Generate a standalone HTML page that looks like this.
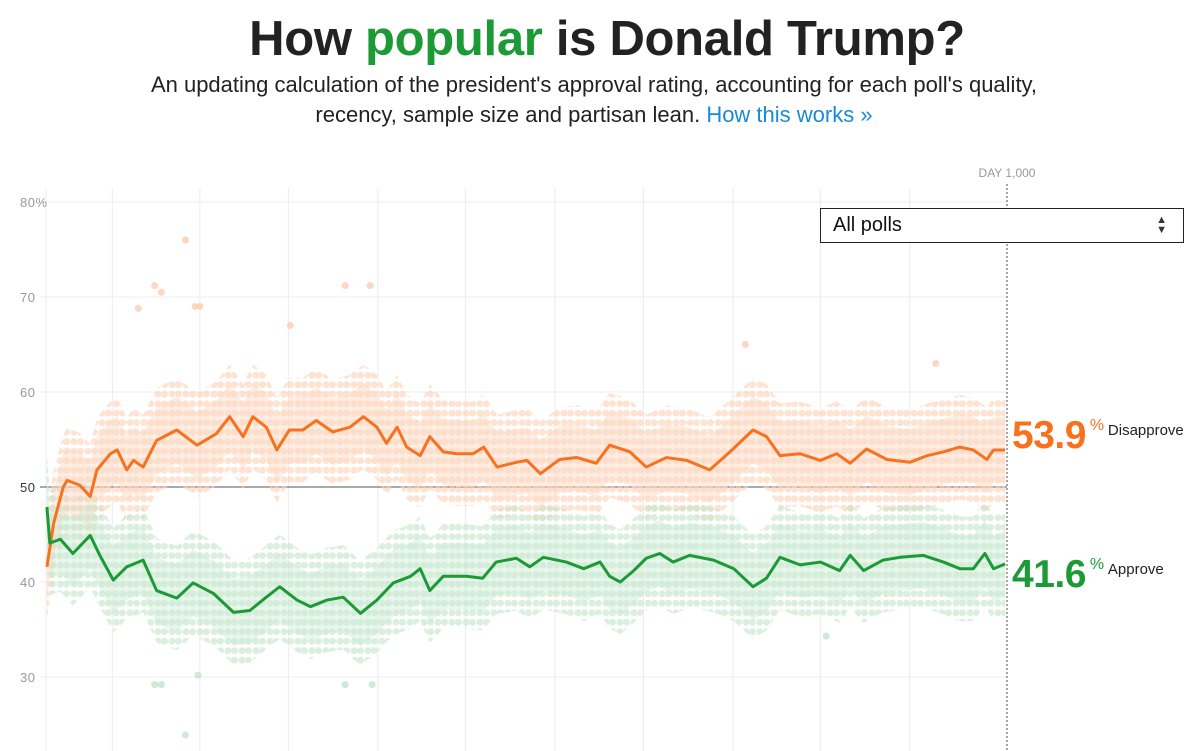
<!DOCTYPE html>
<html><head><meta charset="utf-8">
<style>
body{margin:0;width:1200px;height:751px;overflow:hidden;background:#fff;font-family:"Liberation Sans",sans-serif;position:relative}
#title{position:absolute;left:0;width:1214px;top:11px;text-align:center;font-size:49px;font-weight:bold;color:#222;letter-spacing:-0.3px}
#title span{color:#1b9a35}
#sub{position:absolute;left:0;width:1188px;top:70px;text-align:center;font-size:22px;line-height:30px;color:#222}
#sub a{color:#1a8ad4;text-decoration:none}
svg{position:absolute;left:0;top:0}
#dd{position:absolute;left:820px;top:208px;width:364px;height:35px;border:1.5px solid #222;background:#fff;box-sizing:border-box;font-size:20px;line-height:33px;padding-left:12px;color:#111}
#dd .arr{position:absolute;right:16px;top:6px;font-size:11px;line-height:10px;color:#333}
</style></head><body>
<div id="title">How <span>popular</span> is Donald Trump?</div>
<div id="sub">An updating calculation of the president's approval rating, accounting for each poll's quality,<br>recency, sample size and partisan lean. <a href="#">How this works »</a></div>
<svg id="chart" width="1200" height="751"></svg>
<div id="dd">All polls<div class="arr">▲<br>▼</div></div>
<script>
const disDays=[2,9,19,23,36,47,54,68,75,85,92,102,116,137,158,178,192,206,216,230,241,254,268,282,299,317,331,345,355,366,376,390,400,414,428,445,456,470,490,501,515,535,553,573,587,608,625,646,667,691,712,736,750,764,785,806,823,837,854,875,899,917,934,951,965,979,986,998];
const disVals=[41.6,46.2,50,50.7,50.2,49,51.8,53.5,53.9,51.8,52.8,52.1,54.9,56.0,54.4,55.6,57.4,55.3,57.4,56.3,53.9,56.0,56.0,57.0,55.8,56.3,57.4,56.3,54.6,56.3,54.2,53.3,55.3,53.7,53.5,53.5,54.2,52.1,52.6,52.8,51.4,52.9,53.1,52.5,54.4,53.7,52.1,53.1,52.8,51.8,53.7,56.0,55.3,53.3,53.5,52.8,53.5,52.5,54.0,52.9,52.6,53.3,53.7,54.2,53.9,52.9,53.9,53.9];
const appDays=[2,5,16,29,47,57,71,85,102,116,137,154,175,196,213,230,244,262,276,293,310,328,345,362,380,390,400,414,438,455,469,490,504,518,542,560,577,587,598,612,625,639,653,670,695,716,736,750,764,785,806,826,837,851,871,889,913,934,951,965,977,986,998];
const appVals=[47.9,44.1,44.5,43,44.9,42.8,40.2,41.6,42.3,39.1,38.3,39.9,38.8,36.8,37,38.4,39.5,38.1,37.4,38.1,38.4,36.7,38.1,39.9,40.6,41.4,39.1,40.6,40.6,40.4,42.1,42.5,41.6,42.6,42.1,41.4,42.1,40.6,40.0,41.2,42.5,43,42.1,42.8,42.3,41.4,39.5,40.4,42.6,41.8,42.1,41.2,42.8,41.2,42.3,42.6,42.8,42.1,41.4,41.4,43,41.4,41.9];
const outDisDays=[146,114,121,156,161,312,338,255,97,728,926];
const outDisVals=[76,71.2,70.5,69,69,71.2,71.2,67,68.8,65,63];
const outAppDays=[146,114,121,159,312,340,812];
const outAppVals=[23.9,29.2,29.2,30.2,29.2,29.2,34.3];
const yTicks=[80,70,60,50,40,30];
const xGridDays=[70,161,253,346,437,530,622,715,806,899];
const dispLabel="53.9",appLabel="41.6";

const NS="http://www.w3.org/2000/svg";
const svg=document.getElementById('chart');
const X=d=>45+d*0.962;
const Y=v=>487+(50-v)*9.5;
function mk(tag,attrs,parent){const e=document.createElementNS(NS,tag);for(const k in attrs)e.setAttribute(k,attrs[k]);(parent||svg).appendChild(e);return e;}
const defs=mk('defs',{});
function pat(id,col){const p=mk('pattern',{id:id,width:14,height:9.5,patternUnits:'userSpaceOnUse'},defs);mk('circle',{cx:4,cy:4.7,r:3.5,fill:col},p);mk('circle',{cx:10.5,cy:4.7,r:3.5,fill:col},p);}
pat('po','#fdd0b4');pat('pg','#c3e5ca');
xGridDays.forEach(d=>{const l=mk('line',{x1:X(d),x2:X(d),y1:188,y2:751,stroke:'#ececec','stroke-width':1});

});
mk('line',{x1:46,x2:46,y1:188,y2:751,stroke:'#ececec'});
yTicks.forEach(t=>{const l=mk('line',{x1:40,x2:1007,y1:Y(t),y2:Y(t),stroke:t===50?'#555':'#ececec','stroke-width':1});


const tx=mk('text',{x:20,y:Y(t)+5,'font-size':13,fill:t===50?'#333':'#999','letter-spacing':'0.5px'});
tx.textContent=t===80?'80%':String(t);

});
function band(days,vals,w,fill,op,name){let top=days.map((d,i)=>X(d)+','+Y(vals[i]+w)).join(' ');let bot=days.map((d,i)=>X(d)+','+Y(vals[i]-w)).reverse().join(' ');
const p=mk('polygon',{points:top+' '+bot,fill:fill,opacity:op});

}
band(disDays,disVals,5.5,'url(#po)',0.6,'disapprove-poll-dots');
band(appDays,appVals,5.5,'url(#pg)',0.6,'approve-poll-dots');
band(disDays,disVals,3.5,'#fdd7c0',0.45,'disapprove-uncertainty-band');
band(appDays,appVals,3.5,'#cdebd4',0.45,'approve-uncertainty-band');
outDisDays.forEach((d,i)=>{const c=mk('circle',{cx:X(d),cy:Y(outDisVals[i]),r:3.5,fill:'#fcc6a6',opacity:0.7});

});
outAppDays.forEach((d,i)=>{const c=mk('circle',{cx:X(d),cy:Y(outAppVals[i]),r:3.5,fill:'#b9e0c2',opacity:0.7});

});
const l1=mk('polyline',{points:disDays.map((d,i)=>X(d)+','+Y(disVals[i])).join(' '),fill:'none',stroke:'#f7711f','stroke-width':3,'stroke-linejoin':'round'});


const l2=mk('polyline',{points:appDays.map((d,i)=>X(d)+','+Y(appVals[i])).join(' '),fill:'none',stroke:'#1b9a35','stroke-width':3,'stroke-linejoin':'round'});


const dl=mk('line',{x1:1007,x2:1007,y1:184,y2:751,stroke:'#777','stroke-dasharray':'2,2','stroke-width':1.3});


const dt=mk('text',{x:1007,y:177,'text-anchor':'middle','font-size':12,fill:'#999'});dt.textContent='DAY 1,000';


function endLabel(val,label,col,base,name){const g=mk('g',{});


const t=mk('text',{x:1012,y:base,'font-size':39,'font-weight':'bold',fill:col,'letter-spacing':'-0.5px'},g);t.textContent=val;
const w=t.getComputedTextLength();
const p=mk('text',{x:1016+w,y:base-18,'font-size':16,fill:col},g);p.textContent='%';
const l=mk('text',{x:1034+w,y:base-13,'font-size':15,fill:'#222'},g);l.textContent=label;}
endLabel(dispLabel,'Disapprove','#f7711f',448,'disapprove-current-value');
endLabel(appLabel,'Approve','#1b9a35',587,'approve-current-value');
</script>
</body></html>
